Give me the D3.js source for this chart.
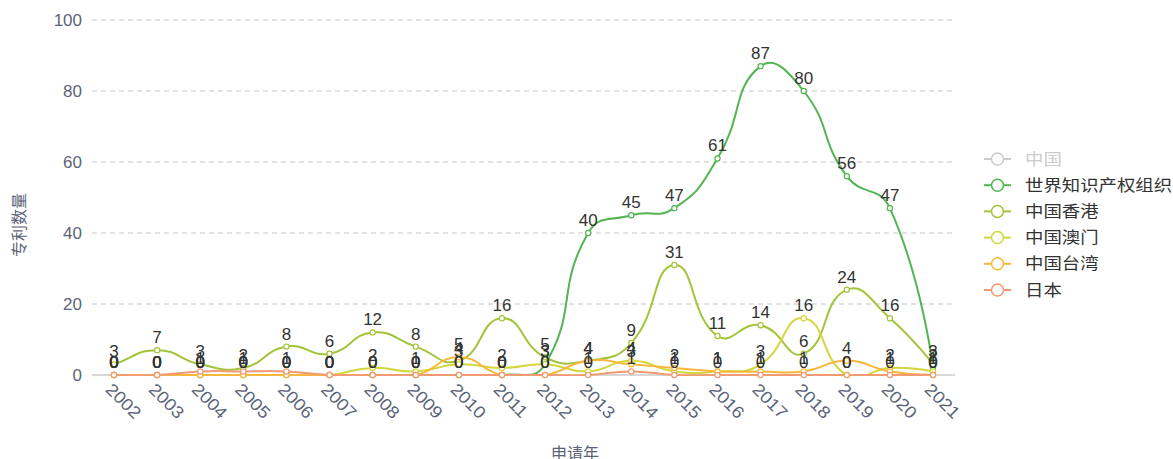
<!DOCTYPE html>
<html>
<head>
<meta charset="utf-8">
<script src="https://cdn.jsdelivr.net/npm/d3@7"></script>
<style>
  body { margin: 0; background: #fff; }
  svg { font-family: "Liberation Sans", "Noto Sans CJK SC", sans-serif; }
</style>
</head>
<body>
<svg id="chart" width="1173" height="459"></svg>
<script>
// data
var years = ["2002","2003","2004","2005","2006","2007","2008","2009","2010","2011",
             "2012","2013","2014","2015","2016","2017","2018","2019","2020","2021"];
var legendNames = ["中国", "世界知识产权组织", "中国香港", "中国澳门", "中国台湾", "日本"];
var hidden = ["中国"];
var wipo   = [0,0,0,0,0,0,0,0,0,0, 3,40,45,47,61,87,80,56,47,2];
var hk     = [3,7,3,2,8,6,12,8,4,16, 5,4,9,31,11,14,6,24,16,3];
var macau  = [0,0,0,0,0,0,2,1,3,2, 3,1,4,1,1,3,16,0,2,1];
var taiwan = [0,0,0,0,0,0,0,0,5,0, 0,4,3,2,1,1,1,4,1,0];
var japan  = [0,0,1,1,1,0,0,0,0,0, 0,0,1,0,0,0,0,0,0,0];
var yTicks = [0, 20, 40, 60, 80, 100];

// smooth path like the original chart lib (smooth = 0.5, pixel-length weighted)
function smoothPath(pts, smooth) {
  var p = d3.path();
  var cpx0, cpy0;
  for (var i = 0; i < pts.length; i++) {
    var px = pts[i][0], py = pts[i][1];
    if (i === 0) { p.moveTo(px, py); cpx0 = px; cpy0 = py; }
    var prev = pts[i - 1] || pts[i], next = pts[i + 1];
    var vx = 0, vy = 0, ratio = 0.5, ncx, ncy;
    if (!next) { ncx = px; ncy = py; }
    else {
      vx = next[0] - prev[0]; vy = next[1] - prev[1];
      var l0 = Math.hypot(px - prev[0], py - prev[1]);
      var l1 = Math.hypot(next[0] - px, next[1] - py);
      ratio = l1 / (l0 + l1);
      ncx = px - vx * smooth * (1 - ratio);
      ncy = py - vy * smooth * (1 - ratio);
    }
    if (i > 0) p.bezierCurveTo(cpx0, cpy0, ncx, ncy, px, py);
    cpx0 = px + vx * smooth * ratio;
    cpy0 = py + vy * smooth * ratio;
  }
  return p.toString();
}

function drawChart() {
  var series = [
    {name: "世界知识产权组织", values: wipo,   color: "#52b552"},
    {name: "中国香港",         values: hk,     color: "#a3c43a"},
    {name: "中国澳门",         values: macau,  color: "#d3d63c"},
    {name: "中国台湾",         values: taiwan, color: "#f6b73c"},
    {name: "日本",             values: japan,  color: "#f29a72"}
  ];
  var colorOf = {"中国": "#cccccc"};
  series.forEach(s => colorOf[s.name] = s.color);

  var svg = d3.select("#chart");
  var plotLeft = 92, plotRight = 955, plotTop = 20, plotBottom = 375;

  var x = d3.scalePoint().domain(years).range([114, 933]);
  var y = d3.scaleLinear().domain([0, 100]).range([plotBottom, plotTop]);

  svg.append("clipPath").attr("id", "plotClip")
    .append("rect")
    .attr("x", plotLeft).attr("y", plotTop - 5)
    .attr("width", plotRight - plotLeft).attr("height", plotBottom - plotTop + 6);

  // grid
  svg.append("g")
    .selectAll("line")
    .data(yTicks.filter(d => d > 0))
    .join("line")
    .attr("x1", plotLeft).attr("x2", plotRight)
    .attr("y1", d => y(d)).attr("y2", d => y(d))
    .attr("stroke", "#c4c4c4")
    .attr("stroke-dasharray", "5,4");

  // y axis labels
  svg.append("g")
    .selectAll("text")
    .data(yTicks)
    .join("text")
    .attr("x", 82).attr("y", d => y(d))
    .attr("dy", "0.35em")
    .attr("text-anchor", "end")
    .attr("fill", "#5b6478")
    .style("font-size", "17px")
    .text(d => d);

  // x axis line
  svg.append("line")
    .attr("x1", plotLeft).attr("x2", plotRight)
    .attr("y1", plotBottom).attr("y2", plotBottom)
    .attr("stroke", "#b0b0b0");

  // x axis labels, rotated
  svg.append("g")
    .selectAll("text")
    .data(years)
    .join("text")
    .attr("transform", d => `translate(${x(d) - 1},${plotBottom + 7}) rotate(45) scale(1.1,1)`)
    .attr("dy", "0.7em")
    .attr("fill", "#5b6478")
    .style("font-size", "17px")
    .text(d => d);

  // axis names
  svg.append("text")
    .attr("transform", "translate(25,225) rotate(-90)")
    .attr("text-anchor", "middle")
    .attr("fill", "#5b6478")
    .style("font-size", "16px")
    .text("专利数量");

  svg.append("text")
    .attr("x", 575).attr("y", 459)
    .attr("text-anchor", "middle")
    .attr("fill", "#5b6478")
    .style("font-size", "16px")
    .text("申请年");

  // lines
  var g = svg.append("g");
  var lineG = g.append("g").attr("clip-path", "url(#plotClip)");
  series.forEach(s => {
    var pts = s.values.map((d, i) => [x(years[i]), y(d)]);
    lineG.append("path")
      .attr("fill", "none")
      .attr("stroke", s.color)
      .attr("stroke-width", 2)
      .attr("d", smoothPath(pts, 0.5));
  });

  // points
  series.forEach(s => {
    g.append("g")
      .selectAll("circle")
      .data(s.values)
      .join("circle")
      .attr("cx", (d, i) => x(years[i]))
      .attr("cy", d => y(d))
      .attr("r", 2.6)
      .attr("fill", "#fff")
      .attr("stroke", s.color)
      .attr("stroke-width", 1.2);
  });

  // value labels
  series.forEach(s => {
    g.append("g")
      .selectAll("text")
      .data(s.values)
      .join("text")
      .attr("x", (d, i) => x(years[i]))
      .attr("y", d => y(d) - 7)
      .attr("text-anchor", "middle")
      .attr("fill", "#333")
      .style("font-size", "17px")
      .text(d => d);
  });

  // legend
  var legend = svg.append("g")
    .selectAll("g")
    .data(legendNames)
    .join("g")
    .attr("transform", (d, i) => `translate(984,${159 + i * 26.2})`);

  legend.append("line")
    .attr("x1", 0).attr("x2", 27)
    .attr("stroke", d => colorOf[d])
    .attr("stroke-width", 2);
  legend.append("circle")
    .attr("cx", 13.5).attr("r", 6)
    .attr("fill", "#fff")
    .attr("stroke", d => colorOf[d])
    .attr("stroke-width", 1.5);
  legend.append("text")
    .attr("transform", "translate(41,0) scale(1.15,1)")
    .attr("dy", "0.35em")
    .attr("fill", d => hidden.includes(d) ? "#cccccc" : "#333")
    .style("font-size", "16px")
    .text(d => d);
}

drawChart();
</script>
</body>
</html>
